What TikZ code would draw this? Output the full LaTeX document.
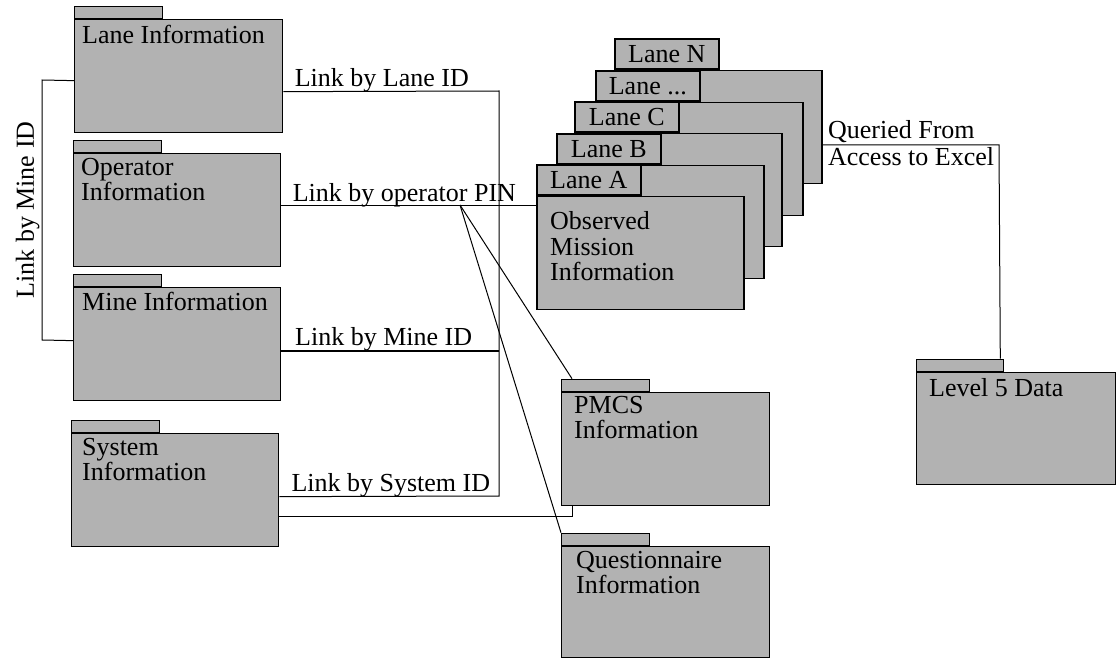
\documentclass[tikz,border=0pt]{standalone}
\usepackage{fontspec}
\setmainfont{Liberation Serif}
\usepackage{tikz}
\usetikzlibrary{calc}
\definecolor{FolderGray}{RGB}{178,178,178}
\tikzset{
  txt/.style={font=\fontsize{26}{25.5}\selectfont},
  folder/.style={draw,line width=1.3pt,fill=FolderGray,minimum width=208pt,minimum height=113pt,anchor=north west,inner sep=0pt},
  foldertab/.style={draw,line width=1.3pt,fill=FolderGray,minimum width=88pt,minimum height=12pt,anchor=south west,inner sep=0pt},
  foldertext/.style={txt,anchor=north west,align=left,inner sep=0pt},
  lanetab/.style={draw,line width=1.6pt,fill=FolderGray,minimum width=104pt,minimum height=30pt,anchor=north west,inner sep=0pt,txt},
  lanebody/.style={draw,line width=1.6pt,fill=FolderGray,minimum width=207pt,minimum height=113pt,anchor=north west,inner sep=0pt},
  link/.style={draw,line width=1pt},
  linklabel/.style={txt,anchor=base west,inner sep=0pt}
}

\begin{document}
\begin{tikzpicture}[x=1pt,y=-1pt]
\useasboundingbox (0,0) rectangle (1116,658);
% packages on the left
\node[folder](lane)at(74,19){};
\node[foldertab](laneT)at(lane.north west){};
\node[foldertext]at([shift={(8,6)}]lane.north west){Lane Information};
\node[folder,minimum width=207pt](oper)at(73,153){};
\node[foldertab](operT)at(oper.north west){};
\node[foldertext]at([shift={(8,5)}]oper.north west){Operator\\Information};
\node[folder,minimum width=207pt](mine)at(73,287){};
\node[foldertab](mineT)at(mine.north west){};
\node[foldertext]at([shift={(9,5)}]mine.north west){Mine Information};
\node[folder,minimum width=207pt](sys)at(71,433){};
\node[foldertab](sysT)at(sys.north west){};
\node[foldertext]at([shift={(11,5)}]sys.north west){System\\Information};
% packages on the right
\node[folder](pmcs)at(561,392){};
\node[foldertab](pmcsT)at(pmcs.north west){};
\node[foldertext]at([shift={(13,4)}]pmcs.north west){PMCS\\Information};
\node[folder,minimum height=111pt](quest)at(561,546){};
\node[foldertab](questT)at(quest.north west){};
\node[foldertext]at([shift={(15,5)}]quest.north west){Questionnaire\\Information};
\node[folder,minimum width=199pt,minimum height=112pt](lvl)at(916,372){};
\node[foldertab,minimum width=87pt](lvlT)at(lvl.north west){};
\node[foldertext]at([shift={(13,6)}]lvl.north west){Level 5 Data};
% stack of lanes
\foreach \lx/\ly/\nm/\lbl in {614/38/N/{Lane N},595/70/D/{Lane ...},574/101/C/{Lane C},556/133/B/{Lane B},536/164/A/{Lane A}}{
  \node[lanetab](tab\nm)at(\lx,\ly){\lbl};
  \node[lanebody](lane\nm)at(tab\nm.south west){};
}
\node[foldertext]at([shift={(14,16)}]laneA.north west){Observed\\Mission\\Information};
% links
\coordinate(busTop)at(499,91);
\coordinate(busBot)at(499,496);
\coordinate(pinJ)at(460,205);
\coordinate(mineTop)at(42,80);
\coordinate(mineBot)at(42,340);
\draw[link]([yshift=-4.5pt]lane.west)--(mineTop)--node[txt,rotate=90,above,inner sep=2pt]{Link by Mine ID}(mineBot)--([yshift=3.5pt]mine.west);
\draw[link]([yshift=-15.5pt]lane.east)--node[linklabel,pos=0,xshift=11pt,yshift=5pt]{Link by Lane ID}(busTop)--(busBot)--([yshift=-6.5pt]sys.east);
\node[linklabel]at([shift={(12,-4.3)}]busBot -| sys.east){Link by System ID};
\draw[link]([yshift=4.5pt]oper.east)coordinate(opA)--node[linklabel,pos=0,xshift=11pt,yshift=4pt]{Link by operator PIN}(opA -| laneA.west);
\draw[link,line width=1.8pt]([yshift=-6.5pt]mine.east)coordinate(mnA)--node[linklabel,pos=0,xshift=13pt,yshift=5pt]{Link by Mine ID}(mnA -| busTop);
\draw[link](pinJ)--([xshift=11pt]pmcsT.north west);
\draw[link](pinJ)--(questT.north west);
\draw[link]([yshift=-26.5pt]sys.east)-|([xshift=11pt]pmcs.south west);
\draw[link]([yshift=-18pt]laneN.east)coordinate(qA)--node[linklabel,pos=0,xshift=5pt,yshift=6pt]{Queried From}node[linklabel,pos=0,xshift=5pt,yshift=-20.6pt]{Access to Excel}(qA -| 999,0)--([xshift=-4pt]lvlT.north east);
\end{tikzpicture}
\end{document}
